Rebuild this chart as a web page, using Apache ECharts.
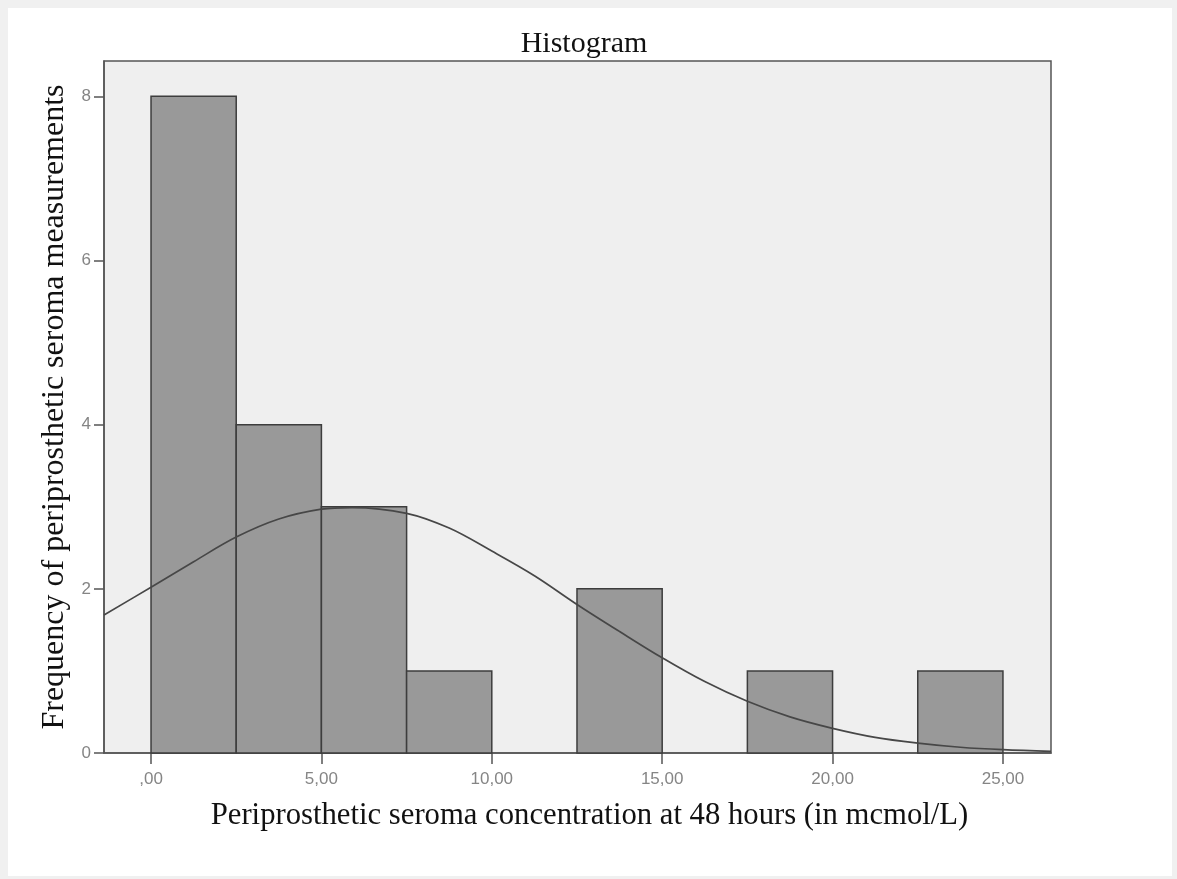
<!DOCTYPE html>
<html>
<head>
<meta charset="utf-8">
<script src="https://cdn.jsdelivr.net/npm/echarts@6/dist/echarts.min.js"></script>
<style>
  html, body { margin:0; padding:0; background:#f0f0f0; }
  #frame { position:absolute; left:8px; top:8px; width:1164px; height:868px; background:#ffffff; }
  #chart { position:absolute; left:0; top:0; width:1177px; height:879px; }
</style>
</head>
<body>
<div id="frame"></div>
<div id="chart"></div>
<script>
// Histogram bins (start of each bin, width 2.5) and their frequencies
const binStarts = [0, 2.5, 5, 7.5, 10, 12.5, 15, 17.5, 20, 22.5];
const binWidth = 2.5;
const counts = [8, 4, 3, 1, 0, 2, 0, 1, 0, 1];

// Normal curve
const curveX = [-1.38, 0, 1.25, 2.5, 3.75, 5, 5.9, 7.5, 8.75, 10, 11.25, 12.5, 13.75, 15, 16.25, 17.5, 18.75, 20, 21.25, 22.5, 23.75, 25, 26.41];
const curveY = [1.68, 2.02, 2.33, 2.63, 2.85, 2.97, 2.99, 2.92, 2.74, 2.46, 2.16, 1.81, 1.48, 1.16, 0.87, 0.63, 0.44, 0.30, 0.19, 0.12, 0.07, 0.04, 0.02];

// Tick values and labels
const xTicks = [0, 5, 10, 15, 20, 25];
const xTickLabels = [',00', '5,00', '10,00', '15,00', '20,00', '25,00'];
const yTicks = [0, 2, 4, 6, 8];

const titleText = 'Histogram';
const xName = 'Periprosthetic seroma concentration at 48 hours (in mcmol/L)';
const yName = 'Frequency of periprosthetic seroma measurements';

const barData = binStarts.map((s, i) => [s, s + binWidth, counts[i]]).filter(d => d[2] > 0);
const lineData = curveX.map((x, i) => [x, curveY[i]]);

const chart = echarts.init(document.getElementById('chart'), null, { renderer: 'canvas' });
chart.setOption({
  backgroundColor: 'transparent',
  animation: false,
  title: {
    text: titleText,
    left: 579, top: 24, textAlign: 'center',
    textStyle: { fontFamily: 'Liberation Serif', fontWeight: 'normal', fontSize: 30, color: '#111' }
  },
  grid: {
    left: 104, top: 61, right: 126, bottom: 126,
    show: true, backgroundColor: '#efefef', borderColor: '#555', borderWidth: 1.5
  },
  xAxis: {
    type: 'value', min: -1.38, max: 26.41,
    name: xName, nameLocation: 'middle', nameGap: 47,
    nameTextStyle: { fontFamily: 'Liberation Serif', fontSize: 30.7, color: '#111', padding: [0, 0, 0, 24] },
    axisLine: { show: true, onZero: false, lineStyle: { color: '#555', width: 1.5 } },
    axisTick: { show: true, length: 11, customValues: xTicks, lineStyle: { color: '#555', width: 1.5 } },
    axisLabel: {
      customValues: xTicks, margin: 18,
      formatter: v => xTickLabels[xTicks.indexOf(v)],
      fontFamily: 'Liberation Sans', fontSize: 17, color: '#858585'
    },
    splitLine: { show: false }
  },
  yAxis: {
    type: 'value', min: 0, max: 8.43,
    name: yName, nameLocation: 'middle', nameGap: 26, nameRotate: 90,
    nameTextStyle: { fontFamily: 'Liberation Serif', fontSize: 32, color: '#111' },
    axisLine: { show: true, onZero: false, lineStyle: { color: '#555', width: 1.5 } },
    axisTick: { show: true, length: 10, customValues: yTicks, lineStyle: { color: '#555', width: 1.5 } },
    axisLabel: {
      customValues: yTicks, margin: 13,
      fontFamily: 'Liberation Sans', fontSize: 17, color: '#858585'
    },
    splitLine: { show: false }
  },
  series: [
    {
      type: 'custom',
      data: barData,
      encode: { x: [0, 1], y: 2 },
      renderItem: function (params, api) {
        const p0 = api.coord([api.value(0), api.value(2)]);
        const p1 = api.coord([api.value(1), 0]);
        return {
          type: 'rect',
          shape: { x: p0[0], y: p0[1], width: p1[0] - p0[0], height: p1[1] - p0[1] },
          style: { fill: '#999999', stroke: '#3d3d3d', lineWidth: 1.5 }
        };
      },
      z: 2
    },
    {
      type: 'line',
      data: lineData,
      smooth: 0.35,
      showSymbol: false,
      clip: true,
      lineStyle: { color: '#474747', width: 1.7 },
      z: 3
    }
  ]
});
</script>
</body>
</html>
